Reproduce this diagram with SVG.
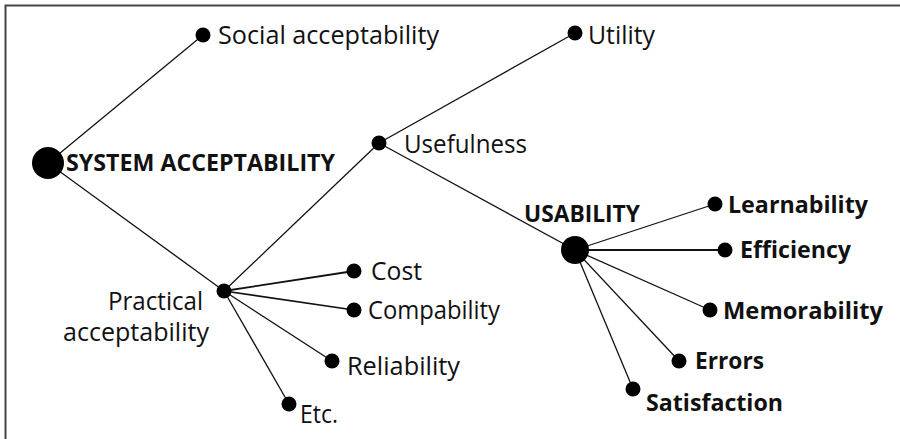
<svg xmlns="http://www.w3.org/2000/svg" width="900" height="439" viewBox="0 0 900 439">
<style>
.edge{stroke:#111;stroke-width:1.3;fill:none}
.dot{fill:#000}
.t{font-family:"Open Sans","Noto Sans","Liberation Sans",sans-serif;font-size:25.5px;fill:#111}
.b{font-family:"Open Sans","Noto Sans","Liberation Sans",sans-serif;font-size:23.5px;font-weight:bold;fill:#111}
</style>
<rect width="900" height="439" fill="#fff"/>
<path d="M5.5 439 V5.5 H900" stroke="#444" stroke-width="2" fill="none"/>
<g id="connectors">
<line class="edge" x1="48" y1="163" x2="203" y2="35"/>
<line class="edge" x1="48" y1="163" x2="224" y2="291"/>
<line class="edge" x1="224" y1="291" x2="379" y2="143"/>
<line class="edge" x1="379" y1="143" x2="575" y2="33"/>
<line class="edge" x1="379" y1="143" x2="575" y2="250"/>
<line class="edge" x1="224" y1="291" x2="354" y2="271" style="stroke-width:1.8"/>
<line class="edge" x1="224" y1="291" x2="354" y2="310" style="stroke-width:1.6"/>
<line class="edge" x1="224" y1="291" x2="332" y2="361"/>
<line class="edge" x1="224" y1="291" x2="289" y2="404"/>
<line class="edge" x1="575" y1="250" x2="715" y2="204"/>
<line class="edge" x1="575" y1="250" x2="725" y2="250" style="stroke-width:2.2"/>
<line class="edge" x1="575" y1="250" x2="710" y2="310"/>
<line class="edge" x1="575" y1="250" x2="679" y2="361"/>
<line class="edge" x1="575" y1="250" x2="633" y2="389"/>
</g>
<g id="system-acceptability">
<circle class="dot" cx="48" cy="163" r="16"/>
<text class="b" x="66" y="171" textLength="269" lengthAdjust="spacingAndGlyphs">SYSTEM ACCEPTABILITY</text>
</g>
<g id="social-acceptability">
<circle class="dot" cx="203" cy="35" r="7.5"/>
<text class="t" x="218" y="44" textLength="221" lengthAdjust="spacingAndGlyphs">Social acceptability</text>
</g>
<g id="practical-acceptability">
<circle class="dot" cx="224" cy="291" r="7.5"/>
<text class="t" x="203" y="310" text-anchor="end" textLength="95" lengthAdjust="spacingAndGlyphs">Practical</text>
<text class="t" x="63" y="341" textLength="146" lengthAdjust="spacingAndGlyphs">acceptability</text>
</g>
<g id="usefulness">
<circle class="dot" cx="379" cy="143" r="7.5"/>
<text class="t" x="404" y="153" textLength="123" lengthAdjust="spacingAndGlyphs">Usefulness</text>
</g>
<g id="utility">
<circle class="dot" cx="575" cy="33" r="7.5"/>
<text class="t" x="588" y="44" textLength="67" lengthAdjust="spacingAndGlyphs">Utility</text>
</g>
<g id="cost">
<circle class="dot" cx="354" cy="271" r="7.5"/>
<text class="t" x="371" y="280" textLength="51" lengthAdjust="spacingAndGlyphs">Cost</text>
</g>
<g id="compability">
<circle class="dot" cx="354" cy="310" r="7.5"/>
<text class="t" x="368" y="319" textLength="132" lengthAdjust="spacingAndGlyphs">Compability</text>
</g>
<g id="reliability">
<circle class="dot" cx="332" cy="361" r="7.5"/>
<text class="t" x="347" y="375" textLength="113" lengthAdjust="spacingAndGlyphs">Reliability</text>
</g>
<g id="etc">
<circle class="dot" cx="289" cy="404" r="7.5"/>
<text class="t" x="300" y="423" textLength="38" lengthAdjust="spacingAndGlyphs">Etc.</text>
</g>
<g id="usability">
<circle class="dot" cx="575" cy="250" r="14"/>
<text class="b" x="524" y="222" textLength="116" lengthAdjust="spacingAndGlyphs">USABILITY</text>
</g>
<g id="learnability">
<circle class="dot" cx="715" cy="204" r="7.5"/>
<text class="b" x="728" y="213" textLength="140" lengthAdjust="spacingAndGlyphs">Learnability</text>
</g>
<g id="efficiency">
<circle class="dot" cx="725" cy="250" r="7.5"/>
<text class="b" x="740" y="258" textLength="111" lengthAdjust="spacingAndGlyphs">Efficiency</text>
</g>
<g id="memorability">
<circle class="dot" cx="710" cy="310" r="7.5"/>
<text class="b" x="723" y="319" textLength="160" lengthAdjust="spacingAndGlyphs">Memorability</text>
</g>
<g id="errors">
<circle class="dot" cx="679" cy="361" r="7.5"/>
<text class="b" x="695" y="369" textLength="69" lengthAdjust="spacingAndGlyphs">Errors</text>
</g>
<g id="satisfaction">
<circle class="dot" cx="633" cy="389" r="7.5"/>
<text class="b" x="646" y="411" textLength="137" lengthAdjust="spacingAndGlyphs">Satisfaction</text>
</g>
</svg>
